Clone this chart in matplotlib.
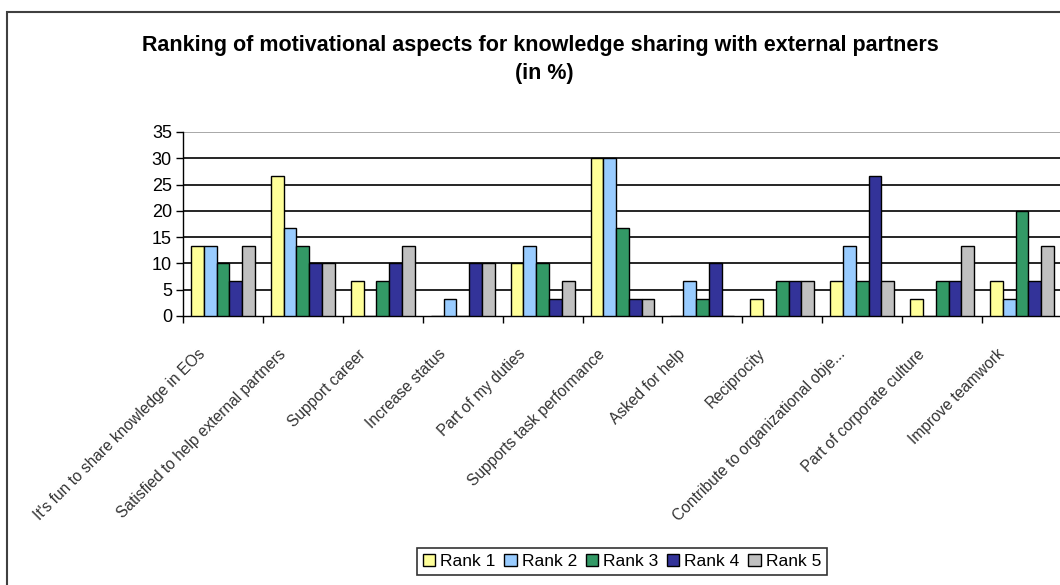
import numpy as np
import matplotlib
matplotlib.use("Agg")
import matplotlib.pyplot as plt
from matplotlib.patches import Rectangle
import matplotlib.transforms as mtransforms

plt.rcParams['font.family'] = ['Liberation Sans', 'DejaVu Sans']

categories = [
    "It's fun to share knowledge in EOs",
    "Satisfied to help external partners",
    "Support career",
    "Increase status",
    "Part of my duties",
    "Supports task performance",
    "Asked for help",
    "Reciprocity",
    "Contribute to organizational obje...",
    "Part of corporate culture",
    "Improve teamwork",
]
rank1 = [13.3, 26.7, 6.7, 0.0, 10.0, 30.0, 0.0, 3.3, 6.7, 3.3, 6.7]
rank2 = [13.3, 16.7, 0.0, 3.3, 13.3, 30.0, 6.7, 0.0, 13.3, 0.0, 3.3]
rank3 = [10.0, 13.3, 6.7, 0.0, 10.0, 16.7, 3.3, 6.7, 6.7, 6.7, 20.0]
rank4 = [6.7, 10.0, 10.0, 10.0, 3.3, 3.3, 10.0, 6.7, 26.7, 6.7, 6.7]
rank5 = [13.3, 10.0, 13.3, 10.0, 6.7, 3.3, 0.0, 6.7, 6.7, 13.3, 13.3]
series_names = ["Rank 1", "Rank 2", "Rank 3", "Rank 4", "Rank 5"]
y_ticks = [0, 5, 10, 15, 20, 25, 30, 35]

series = [rank1, rank2, rank3, rank4, rank5]
colors = ["#FFFF99", "#99CCFF", "#339966", "#333399", "#C0C0C0"]

W, H = 1060, 585
fig = plt.figure(figsize=(W / 100, H / 100), dpi=100)

# outer chart border
fig.patches.append(Rectangle((7 / W, -0.05), 1.2, 1 - 12 / H + 0.05,
                             transform=fig.transFigure, fill=False,
                             edgecolor="#404040", linewidth=1.5))

ax = fig.add_axes([183 / W, 1 - 316 / H, (1062 - 183) / W, (316 - 132) / H])

x = np.arange(len(categories))
bw = 0.16
for i, (vals, c, name) in enumerate(zip(series, colors, series_names)):
    ax.bar(x + (i - 2) * bw, vals, width=bw, color=c, edgecolor="black",
           linewidth=1.0, label=name, zorder=3)

ax.set_xlim(-0.5, len(categories) - 0.5)
ax.set_ylim(0, 35)
ax.set_yticks(y_ticks)
ax.set_yticklabels([str(v) for v in y_ticks], fontsize=13)

for v in y_ticks[1:-1]:
    ax.axhline(v, color="black", linewidth=1.2, zorder=1)
ax.axhline(35, color="#999999", linewidth=1.2, zorder=1)

for s in ["top", "right"]:
    ax.spines[s].set_visible(False)
ax.spines["left"].set_linewidth(1.0)
ax.spines["bottom"].set_linewidth(1.0)

# tick marks at category boundaries, labels at category centres
ax.set_xticks(np.arange(-0.5, len(categories), 1.0))
ax.set_xticklabels([])
ax.tick_params(axis="x", which="major", direction="out", length=5, width=1)
ax.set_xticks(x, minor=True)
ax.set_xticklabels(categories, minor=True, rotation=45, ha="right",
                   rotation_mode="anchor", fontsize=11.2, color="#333333")
ax.tick_params(axis="x", which="minor", length=0, pad=22)
offset = mtransforms.ScaledTranslation(-25 / 100, 0, fig.dpi_scale_trans)
for lbl in ax.get_xticklabels(minor=True):
    lbl.set_transform(lbl.get_transform() + offset)
ax.tick_params(axis="y", direction="out", length=5, width=1, pad=3)

fig.text(540 / W, 1 - 45 / H,
         "Ranking of motivational aspects for knowledge sharing with external partners",
         ha="center", va="center", fontsize=15.5, fontweight="bold")
fig.text(544 / W, 1 - 74 / H, "(in %)", ha="center", va="center",
         fontsize=15.5, fontweight="bold")

leg = fig.legend(loc="upper left", bbox_to_anchor=(417 / W, 1 - 548 / H),
                 ncol=5, fontsize=12.5, frameon=True, fancybox=False,
                 edgecolor="black", handlelength=0.7, handleheight=0.7,
                 handletextpad=0.3, columnspacing=0.5, borderpad=0.35,
                 borderaxespad=0)
leg.get_frame().set_linewidth(1.2)

fig.savefig("out.png", dpi=100)
